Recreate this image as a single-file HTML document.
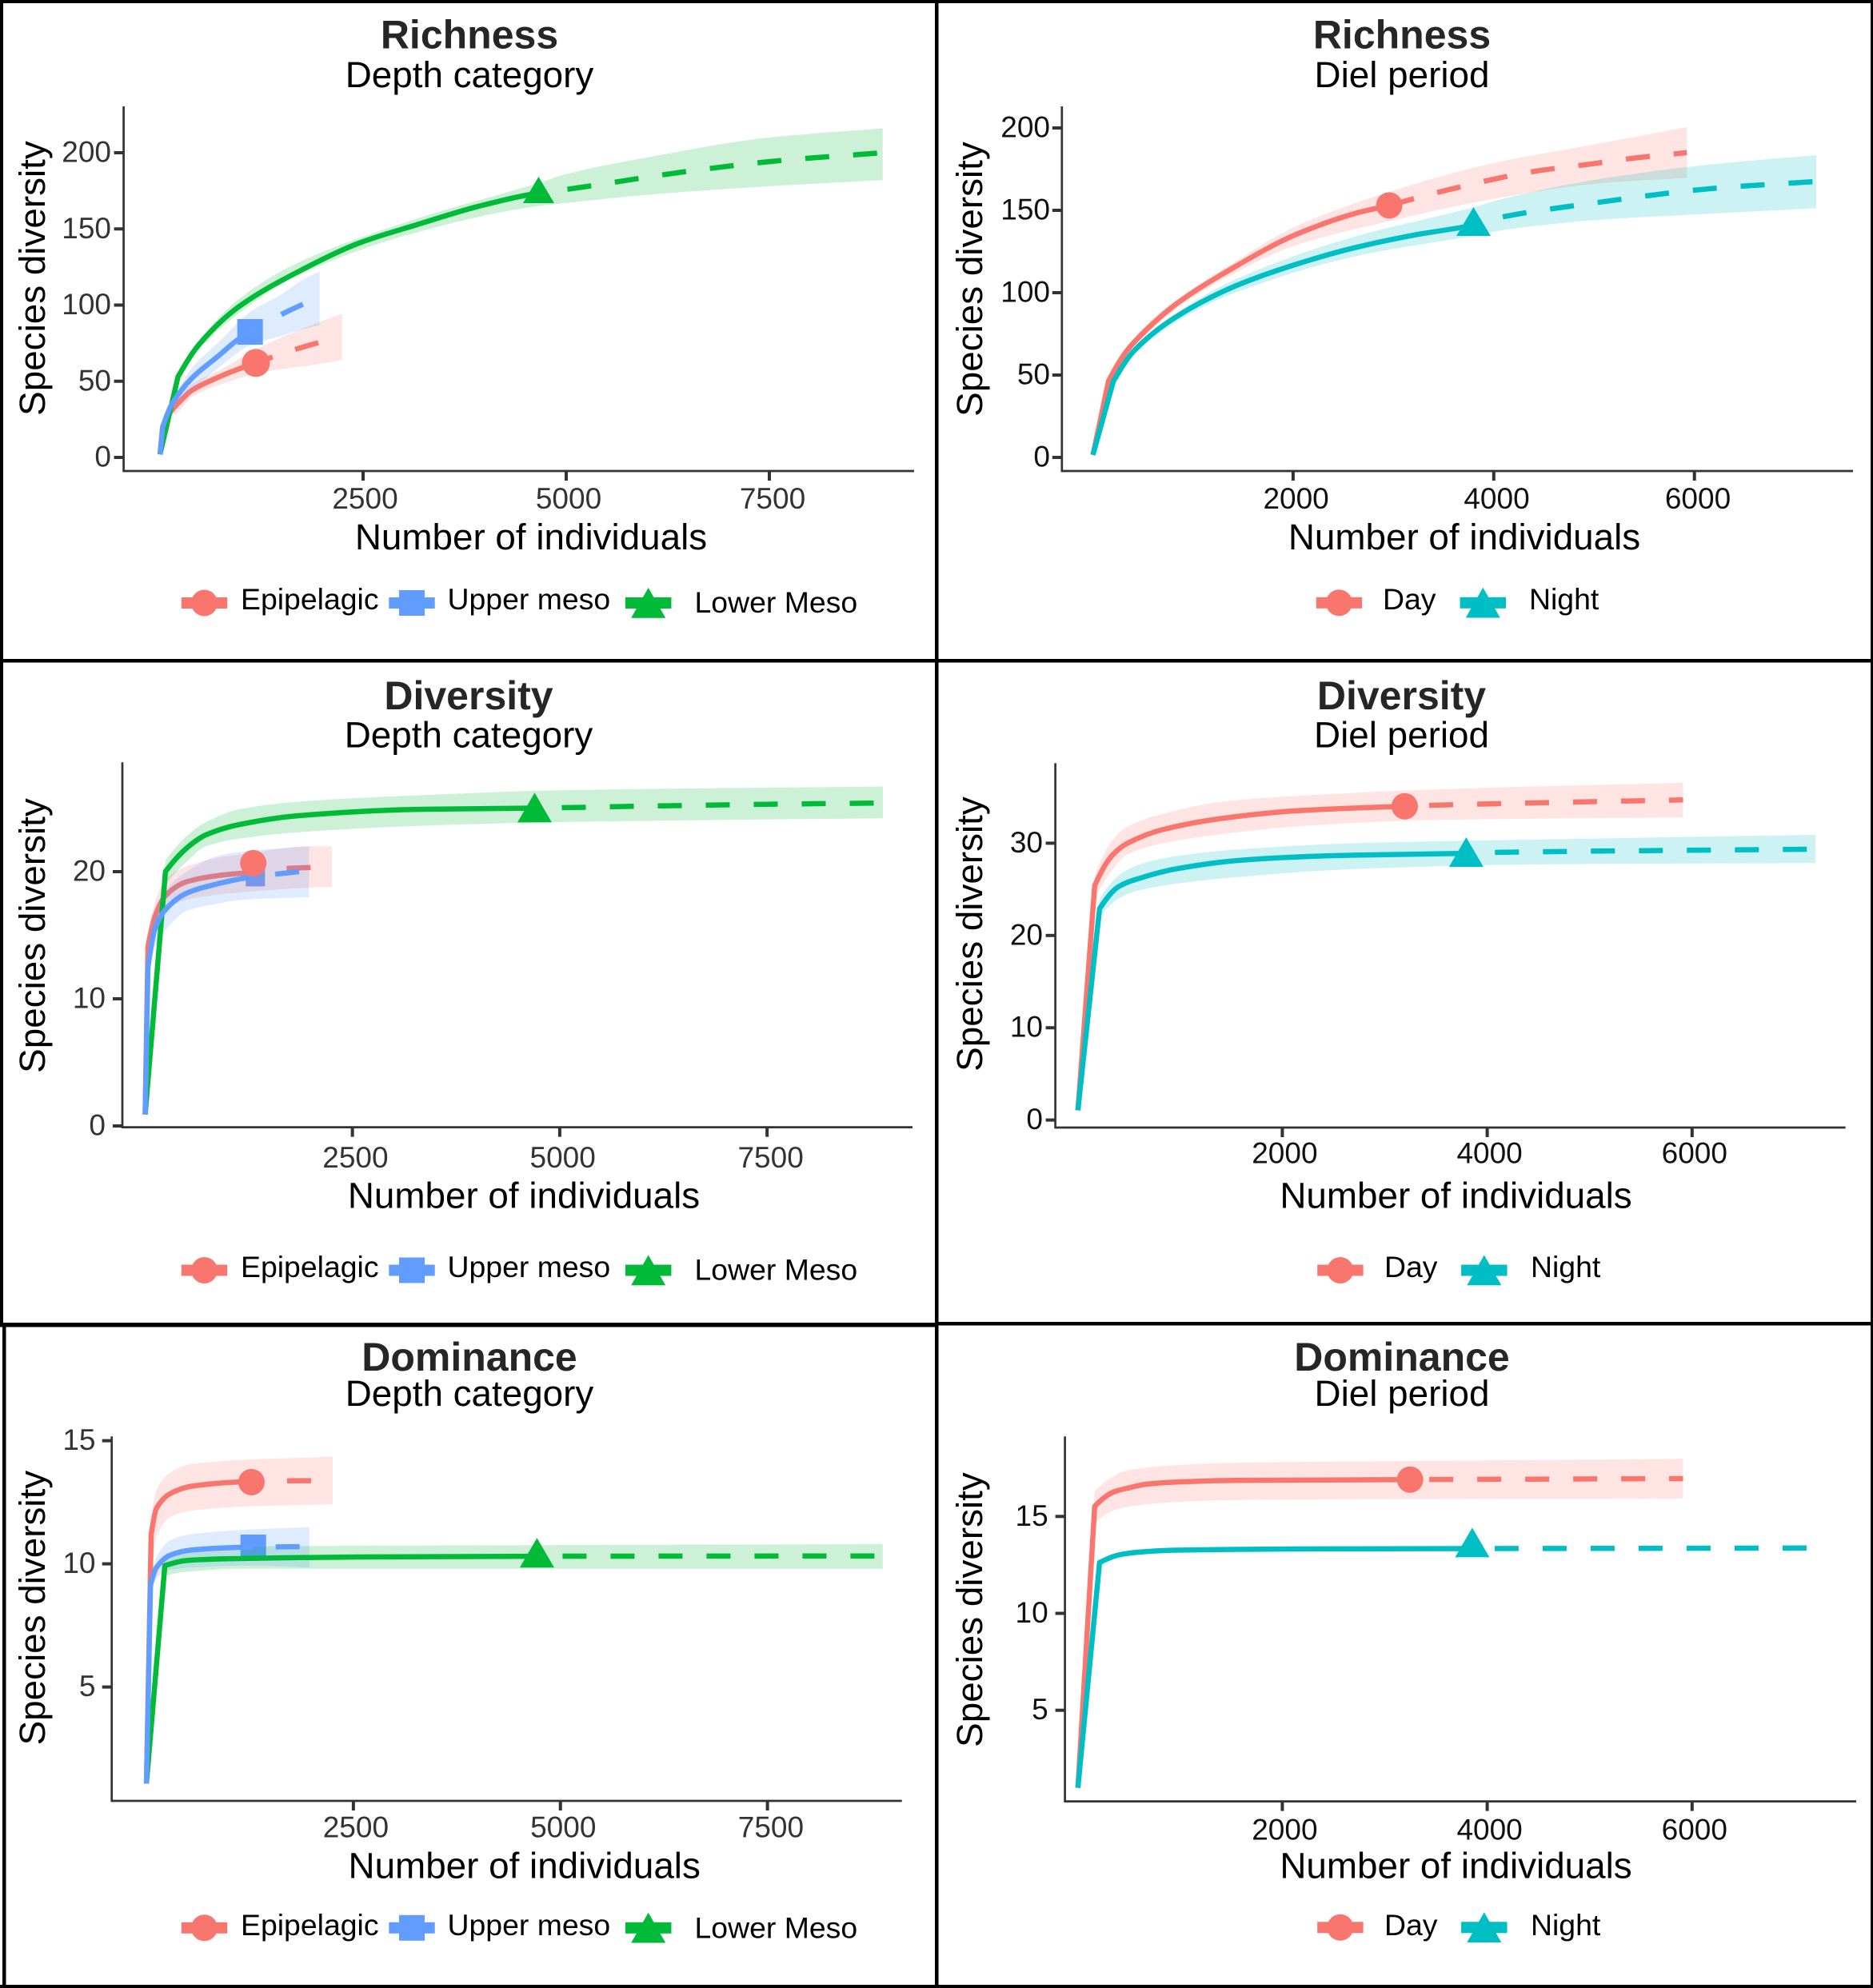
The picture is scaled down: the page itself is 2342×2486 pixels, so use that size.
<!DOCTYPE html>
<html>
<head>
<meta charset="utf-8">
<title>Species diversity rarefaction curves</title>
<style>
html,body{margin:0;padding:0;background:#fff;}
svg{display:block;}
text{font-family:"Liberation Sans",Arial,sans-serif;}
</style>
</head>
<body>
<svg id="figure" xmlns="http://www.w3.org/2000/svg" width="2342" height="2486" viewBox="0 0 2342 2486">
<rect x="0" y="0" width="2342" height="2486" fill="#fff"/>
<g id="plots"></g>
<g fill="#000">
<rect x="0" y="0" width="2342" height="4"/>
<rect x="0" y="0" width="4" height="828"/>
<rect x="0" y="826" width="4" height="832"/>
<rect x="3" y="1654" width="4.5" height="832"/>
<rect x="1169" y="0" width="4.5" height="2486"/>
<rect x="2339" y="0" width="3" height="2486"/>
<rect x="0" y="824" width="2342" height="4.5"/>
<rect x="0" y="1654" width="1171" height="5.5"/>
<rect x="1171" y="1653" width="1171" height="4.5"/>
<rect x="0" y="2482" width="2342" height="4"/>
</g>
</svg>
<script>
// ---------- Richness / Depth ----------
const rdXTicks=[2500,5000,7500];
const rdYTicks=[0,50,100,150,200];
const rdEpiN=[1,33,131,197,394,721,1017,1181,1378,1673,1969];
const rdEpiQ=[2,20,30,34,44,52.7,59,62,65.8,71,75.7];
const rdEpiRibN=[1,33,131,197,394,721,1181,1378,1969,2241];
const rdEpiLo=[2,19,28,29,39.5,47.4,55,57,61.4,64];
const rdEpiHi=[2,21,33,37,48,57,71,76,89,94.3];
const rdUppN=[1,33,148,394,721,952,1109,1493,1755,1965];
const rdUppQ=[2,20,35,52,66.7,77,82.4,93.8,100.4,105];
const rdUppRibN=[1,33,148,394,721,1109,1493,1755,1965];
const rdUppLo=[2,19.5,33,44.8,58.8,73.6,79.8,84,86.8];
const rdUppHi=[2,21,36.5,58.8,75.6,95.5,107,116.5,122];
const rdLowN=[1,222,479,972,1705,2441,3177,3912,4650,5015,6484,7660,8895];
const rdLowQ=[2,53,74,99,122,140.5,153,164.7,173.5,176,187.7,195,200];
const rdLowRibN=[1,222,480,972,1705,3177,4650,5000,6000,7500,8895];
const rdLowLo=[2,52,71,94.6,119.7,148,165,167,172.4,178,182];
const rdLowHi=[2,54,76.5,104,128,157,180,186,197,210,216];
const rdMarkN=[1181,1109,4660];
const rdMarkQ=[62,82.4,172.7];

// ---------- Richness / Diel ----------
const rpXTicks=[2000,4000,6000];
const rpYTicks=[0,50,100,150,200];
const rpDayN=[5,160,339,529,826,1422,2017,2612,2958,3434,4399,4955,5412,5925];
const rpDayQ=[1.5,46.4,64.4,77,92.7,115.8,135,148,153,160.8,173.6,178,181.8,185];
const rpDayRibN=[5,160,339,529,826,1422,2017,3000,4000,5000,5925];
const rpDayLo=[1.5,45,62,74,90,112,128.6,144,157,166,169.8];
const rpDayHi=[1.5,47,66,80,95,119,140,162,178.7,190,200.5];
const rpNigN=[5,207,410,826,1422,2017,2612,3208,3798,4090,4994,6184,7215];
const rpNigQ=[1.5,46,64.4,85,104,117,127.3,135,141,146,154.4,163.3,167.5];
const rpNigRibN=[5,207,410,826,1422,2612,3798,4090,4994,6184,7215];
const rpNigLo=[1.5,45,62,82,100,122,134.6,138,144,148,151.3];
const rpNigHi=[1.5,47,66,87,108,134,151.8,157,168.4,178,183.5];
const rpMarkN=[2958,3798];
const rpMarkQ=[153,140.3];

// ---------- Diversity / Depth ----------
const ddXTicks=[2500,5000,7500];
const ddYTicks=[0,10,20];
const ddEpiN=[1,35,115,244,500,886,1208,1305,1706,1995,2253];
const ddEpiQ=[0.9,14.1,16.4,18.1,19.2,19.7,19.9,19.95,20.25,20.33,20.4];
const ddEpiRibN=[1,35,115,244,500,886,1208,1995,2253];
const ddEpiLo=[0.9,13.4,15.8,17,17.8,18.2,18.4,18.75,18.8];
const ddEpiHi=[0.9,14.6,17.5,19.4,20.4,21.1,21.4,22,22];
const ddUppN=[1,35,115,244,500,886,1208,1330,1570,1852,1977];
const ddUppQ=[0.9,12.5,15.4,17,18.3,19.06,19.5,19.6,19.8,20,20.1];
const ddUppRibN=[1,35,115,244,500,886,1208,1977];
const ddUppLo=[0.9,11,14,15.4,16.9,17.5,17.8,18];
const ddUppHi=[0.9,13.5,16.7,18.5,20,21.25,21.6,22];
const ddLowN=[1,246,519,736,1132,1852,3293,4697,6000,7500,8897];
const ddLowQ=[0.9,20,21.95,22.9,23.7,24.4,24.9,25,25.15,25.3,25.4];
const ddLowRibN=[1,246,519,736,1132,1852,3293,5000,8897];
const ddLowLo=[0.9,19,20.9,22,22.6,23.1,23.6,23.9,24.2];
const ddLowHi=[0.9,20.9,22.9,23.9,24.9,25.5,26,26.4,26.7];
const ddMarkN=[1305,1330,4697];
const ddMarkQ=[20.67,19.6,24.65];

// ---------- Diversity / Diel ----------
const dpXTicks=[2000,4000,6000];
const dpYTicks=[0,10,20,30];
const dpDayN=[5,169,333,490,840,1423,2122,2800,3195,3433,5912];
const dpDayQ=[1.05,25.4,28.6,30,31.5,32.7,33.5,33.85,34,34.1,34.7];
const dpDayRibN=[5,169,333,490,840,1423,2122,3433,5912];
const dpDayLo=[1.05,24,27,28.8,30,31,31.8,32.5,32.8];
const dpDayHi=[1.05,26.5,30.2,31.8,33.2,34.5,35.1,35.8,36.55];
const dpNigN=[5,216,403,607,956,1539,2122,2706,3795,4075,7204];
const dpNigQ=[1.05,22.9,25.3,26.2,27.2,28.1,28.5,28.7,28.9,29,29.35];
const dpNigRibN=[5,216,403,607,956,1539,2706,4500,7204];
const dpNigLo=[1.05,22,24,24.9,25.6,26.3,27.2,27.7,27.85];
const dpNigHi=[1.05,24,26.5,27.7,28.6,29.3,30,30.4,30.9];
const dpMarkN=[3195,3795];
const dpMarkQ=[34,28.5];

// ---------- Dominance / Depth ----------
const odXTicks=[2500,5000,7500];
const odYTicks=[5,10,15];
const odEpiN=[1,58,122,288,541,1117,1269,1700,2250];
const odEpiQ=[1.08,11.2,12.25,12.85,13.15,13.32,13.33,13.37,13.38];
const odEpiRibN=[1,58,122,288,541,1269,2250];
const odEpiLo=[1.08,9.4,11.1,11.9,12.16,12.34,12.42];
const odEpiHi=[1.08,11.9,13,13.7,14.05,14.24,14.34];
const odUppN=[1,50,122,288,541,1117,1291,1969];
const odUppQ=[1.08,9.15,9.85,10.35,10.56,10.67,10.68,10.7];
const odUppRibN=[1,50,122,288,541,1269,1969];
const odUppLo=[1.08,8.7,9.4,9.76,9.85,9.93,9.85];
const odUppHi=[1.08,9.4,10.28,10.96,11.2,11.4,11.48];
const odLowN=[1,223,468,901,2559,4717,8892];
const odLowQ=[1.08,9.93,10.13,10.2,10.28,10.31,10.32];
const odLowRibN=[1,223,468,1117,4717,8892];
const odLowLo=[1.08,9.5,9.67,9.8,9.8,9.8];
const odLowHi=[1.08,10.1,10.45,10.7,10.76,10.8];
const odMarkN=[1269,1291,4717];
const odMarkQ=[13.32,10.67,10.25];

// ---------- Dominance / Diel ----------
const opXTicks=[2000,4000,6000];
const opYTicks=[5,10,15];
const opDayN=[5,169,344,490,665,956,1539,3247,5912];
const opDayQ=[1,15.52,16.24,16.46,16.66,16.77,16.86,16.9,16.95];
const opDayRibN=[5,169,344,490,956,1539,3247,5912];
const opDayLo=[1,14.65,15.3,15.5,15.74,15.85,15.9,15.93];
const opDayHi=[1,16.3,17.05,17.38,17.64,17.77,17.86,17.97];
const opNigN=[5,216,403,607,956,2122,3854,7124];
const opNigQ=[1,12.62,13.01,13.16,13.26,13.32,13.34,13.37];
const opMarkN=[3247,3854];
const opMarkQ=[16.9,13.4];

const RED='#F8766D',BLUE='#619CFF',GREEN='#00BA38',TEAL='#00BFC4';
const NS='http://www.w3.org/2000/svg';

function mk(parent,tag,props){
  const el=document.createElementNS(NS,tag);
  for(const k in props){el.setAttribute(k,props[k]);}
  parent.appendChild(el);
  return el;
}

const depthLegend=(kY,tY,lY)=>[
 {label:'Epipelagic',shape:'circle',color:RED,kx:255.5,ky:kY,tx:301,ty:tY},
 {label:'Upper meso',shape:'square',color:BLUE,kx:515,ky:kY,tx:559.5,ty:tY},
 {label:'Lower Meso',shape:'triangle',color:GREEN,kx:810.7,ky:kY,tx:868.5,ty:lY}
];
const dielLegend=(a,b,c,d,kY,tY)=>[
 {label:'Day',shape:'circle',color:RED,kx:a,ky:kY,tx:b,ty:tY},
 {label:'Night',shape:'triangle',color:TEAL,kx:c,ky:kY,tx:d,ty:tY}
];

const panels=[
{id:'richness-depth',title:'Richness',subtitle:'Depth category',tickColor:'#333',
 titleX:587,titleY:60.5,subY:109,axX:154.6,axTop:133,axBottom:589,axRight:1143,
 x0:200,kx:0.1016,y0:572,ky:1.905,xTicks:rdXTicks,yTicks:rdYTicks,xShift:[2.5,3,4],xLabelY:636,yLabelX:139,
 xTitleX:664,xTitleY:687,yTitleX:56,yTitleY:348,legend:depthLegend(754,762,766),triW:39,triH:33,circleR:17.5,squareS:32,
 series:[
  {name:'epipelagic',color:RED,shape:'circle',n:rdEpiN,q:rdEpiQ,rn:rdEpiRibN,lo:rdEpiLo,hi:rdEpiHi,mi:0,marks:[rdMarkN,rdMarkQ],dash:8},
  {name:'upper-meso',color:BLUE,shape:'square',n:rdUppN,q:rdUppQ,rn:rdUppRibN,lo:rdUppLo,hi:rdUppHi,mi:1,marks:[rdMarkN,rdMarkQ],dash:15.4},
  {name:'lower-meso',color:GREEN,shape:'triangle',n:rdLowN,q:rdLowQ,rn:rdLowRibN,lo:rdLowLo,hi:rdLowHi,mi:2,marks:[rdMarkN,rdMarkQ],dash:23.7}
 ]},
{id:'richness-diel',title:'Richness',subtitle:'Diel period',tickColor:'#111',
 titleX:1753,titleY:60.5,subY:109,axX:1327.8,axTop:133,axBottom:589,axRight:2317,
 x0:1366,kx:0.12545,y0:572,ky:2.06,xTicks:rpXTicks,yTicks:rpYTicks,xShift:[3.7,3.7,4.3],xLabelY:636,yLabelX:1313,
 xTitleX:1831,xTitleY:687,yTitleX:1228,yTitleY:349,legend:dielLegend(1674.4,1729,1854.3,1912,753.8,762),triW:43,triH:36,circleR:16.5,squareS:32,
 series:[
  {name:'day',color:RED,shape:'circle',n:rpDayN,q:rpDayQ,rn:rpDayRibN,lo:rpDayLo,hi:rpDayHi,mi:0,marks:[rpMarkN,rpMarkQ],dash:58},
  {name:'night',color:TEAL,shape:'triangle',n:rpNigN,q:rpNigQ,rn:rpNigRibN,lo:rpNigLo,hi:rpNigHi,mi:1,marks:[rpMarkN,rpMarkQ],dash:22}
 ]},
{id:'diversity-depth',title:'Diversity',subtitle:'Depth category',tickColor:'#333',
 titleX:586,titleY:887,subY:934.5,axX:153,axTop:953.3,axBottom:1409.6,axRight:1141,
 x0:181.4,kx:0.1037,y0:1408,ky:15.9,xTicks:ddXTicks,yTicks:ddYTicks,xShift:[3.8,3.8,4.5],xLabelY:1460,yLabelX:132,
 xTitleX:655,xTitleY:1510.5,yTitleX:56,yTitleY:1170,legend:depthLegend(1588.5,1597,1600.7),triW:43,triH:37,circleR:16.5,squareS:24,
 series:[
  {name:'epipelagic',color:RED,shape:'circle',n:ddEpiN,q:ddEpiQ,rn:ddEpiRibN,lo:ddEpiLo,hi:ddEpiHi,mi:0,marks:[ddMarkN,ddMarkQ],dash:18},
  {name:'upper-meso',color:BLUE,shape:'square',n:ddUppN,q:ddUppQ,rn:ddUppRibN,lo:ddUppLo,hi:ddUppHi,mi:1,marks:[ddMarkN,ddMarkQ],dash:35},
  {name:'lower-meso',color:GREEN,shape:'triangle',n:ddLowN,q:ddLowQ,rn:ddLowRibN,lo:ddLowLo,hi:ddLowHi,mi:2,marks:[ddMarkN,ddMarkQ],dash:26}
 ]},
{id:'diversity-diel',title:'Diversity',subtitle:'Diel period',tickColor:'#111',
 titleX:1752.5,titleY:887,subY:934.5,axX:1319.6,axTop:954.4,axBottom:1410,axRight:2307.6,
 x0:1347.2,kx:0.1281,y0:1400.6,ky:11.54,xTicks:dpXTicks,yTicks:dpYTicks,xShift:[3,3,3],xLabelY:1454.5,yLabelX:1304,
 xTitleX:1820.5,xTitleY:1510.5,yTitleX:1228,yTitleY:1168,legend:dielLegend(1675.9,1731,1855.8,1914,1588.5,1597),triW:43,triH:37,circleR:16.5,squareS:32,
 series:[
  {name:'day',color:RED,shape:'circle',n:dpDayN,q:dpDayQ,rn:dpDayRibN,lo:dpDayLo,hi:dpDayHi,mi:0,marks:[dpMarkN,dpMarkQ],dash:29.5},
  {name:'night',color:TEAL,shape:'triangle',n:dpNigN,q:dpNigQ,rn:dpNigRibN,lo:dpNigLo,hi:dpNigHi,mi:1,marks:[dpMarkN,dpMarkQ],dash:24}
 ]},
{id:'dominance-depth',title:'Dominance',subtitle:'Depth category',tickColor:'#333',
 titleX:587,titleY:1714,subY:1758,axX:139.7,axTop:1796.3,axBottom:2252,axRight:1127.7,
 x0:183,kx:0.10355,y0:2263.6,ky:30.8,xTicks:odXTicks,yTicks:odYTicks,xShift:[3,3.5,4.3],xLabelY:2297.5,yLabelX:119.5,
 xTitleX:655.7,xTitleY:2348.3,yTitleX:56,yTitleY:2010.6,legend:depthLegend(2410.8,2420,2423.6),triW:43,triH:37,circleR:16.5,squareS:32,
 series:[
  {name:'epipelagic',color:RED,shape:'circle',n:odEpiN,q:odEpiQ,rn:odEpiRibN,lo:odEpiLo,hi:odEpiHi,mi:0,marks:[odMarkN,odMarkQ],dash:15.4},
  {name:'upper-meso',color:BLUE,shape:'square',n:odUppN,q:odUppQ,rn:odUppRibN,lo:odUppLo,hi:odUppHi,mi:1,marks:[odMarkN,odMarkQ],dash:32},
  {name:'lower-meso',color:GREEN,shape:'triangle',n:odLowN,q:odLowQ,rn:odLowRibN,lo:odLowLo,hi:odLowHi,mi:2,marks:[odMarkN,odMarkQ],dash:28}
 ]},
{id:'dominance-diel',title:'Dominance',subtitle:'Diel period',tickColor:'#111',
 titleX:1753,titleY:1714,subY:1758,axX:1331.6,axTop:1796.3,axBottom:2252.6,axRight:2321,
 x0:1347.2,kx:0.1281,y0:2259.9,ky:24.24,xTicks:opXTicks,yTicks:opYTicks,xShift:[3,3,3],xLabelY:2300.5,yLabelX:1310.7,
 xTitleX:1820.5,xTitleY:2348.3,yTitleX:1228,yTitleY:2013,legend:dielLegend(1675.9,1731,1855.8,1914,2410.3,2420),triW:43,triH:37,circleR:16.5,squareS:32,
 series:[
  {name:'day',color:RED,shape:'circle',n:opDayN,q:opDayQ,rn:opDayRibN,lo:opDayLo,hi:opDayHi,mi:0,marks:[opMarkN,opMarkQ],dash:36},
  {name:'night',color:TEAL,shape:'triangle',n:opNigN,q:opNigQ,rn:null,lo:null,hi:null,mi:1,marks:[opMarkN,opMarkQ],dash:32}
 ]}
];

function lerpAt(ns,qs,n){
  for(let i=1;i<ns.length;i++){
    if(n<=ns[i]){
      const t=(n-ns[i-1])/(ns[i]-ns[i-1]);
      return qs[i-1]+t*(qs[i]-qs[i-1]);
    }
  }
  return qs[qs.length-1];
}

// Pixel points -> list of path segments. The first segment stays straight (the
// reference has a hard corner there); the rest use a monotone cubic through the knots.
function curveSegments(pts){
  const N=pts.length,segs=[];
  if(N<3){
    for(let i=1;i<N;i++){segs.push({a:pts[i-1],b:pts[i],c1:pts[i-1],c2:pts[i]});}
    return segs;
  }
  const h=[],s=[];
  for(let i=0;i<N-1;i++){
    h[i]=Math.max(pts[i+1][0]-pts[i][0],0.001);
    s[i]=(pts[i+1][1]-pts[i][1])/h[i];
  }
  const m=[];
  m[N-1]=s[N-2];
  for(let i=2;i<N-1;i++){
    m[i]=(s[i-1]*s[i]<=0)?0:(h[i-1]+h[i])*2*s[i-1]*s[i]/((h[i-1]+h[i])*(s[i-1]+s[i])+0.0001);
  }
  if(N>3){
    let e=((2*h[1]+h[2])*s[1]-h[1]*s[2])/(h[1]+h[2]);
    if(e*s[1]<=0){e=s[1];}
    if(Math.abs(e)>3*Math.abs(s[1])){e=3*s[1];}
    m[1]=e;
  }else{
    m[1]=s[1];
  }
  segs.push({a:pts[0],b:pts[1],c1:pts[0],c2:pts[1]});
  for(let i=1;i<N-1;i++){
    const d=h[i]/3;
    segs.push({a:pts[i],b:pts[i+1],
      c1:[pts[i][0]+d,pts[i][1]+m[i]*d],
      c2:[pts[i+1][0]-d,pts[i+1][1]-m[i+1]*d]});
  }
  return segs;
}
const fmt=p=>p[0].toFixed(1)+' '+p[1].toFixed(1);
function segPath(segs){
  return segs.map(g=>'C'+fmt(g.c1)+' '+fmt(g.c2)+' '+fmt(g.b)).join('');
}
function segPathReverse(segs){
  let d='';
  for(let i=segs.length-1;i>=0;i--){
    d+='C'+fmt(segs[i].c2)+' '+fmt(segs[i].c1)+' '+fmt(segs[i].a);
  }
  return d;
}

function drawRibbon(g,p,s,X,Y){
  if(!s.rn){return;}
  const up=curveSegments(s.rn.map((n,i)=>[X(n),Y(s.hi[i])]));
  const dn=curveSegments(s.rn.map((n,i)=>[X(n),Y(s.lo[i])]));
  const d='M'+fmt(up[0].a)+segPath(up)+'L'+fmt(dn[dn.length-1].b)+segPathReverse(dn)+'Z';
  const el=mk(g,'path',{d:d,fill:s.color,'fill-opacity':0.2,stroke:'none'});
  
  
}

function drawLine(g,p,s,X,Y){
  const split=s.marks[0][s.mi];
  const splitQ=lerpAt(s.n,s.q,split);
  const pts=[];
  let placed=false;
  s.n.forEach((n,i)=>{
    if(!placed&&n>=split){
      if(n>split){pts.push([X(split),Y(splitQ),1]);}
      placed=true;
      if(n===split){pts.push([X(n),Y(s.q[i]),1]);return;}
    }
    pts.push([X(n),Y(s.q[i]),0]);
  });
  const segs=curveSegments(pts);
  const k=pts.findIndex(q=>q[2]===1);
  const solid='M'+fmt(pts[0])+segPath(segs.slice(0,k));
  const dashed='M'+fmt(pts[k])+segPath(segs.slice(k));
  const a=mk(g,'path',{d:solid,fill:'none',stroke:s.color,'stroke-width':6.5,'stroke-linejoin':'round'});
  
  
  const b=mk(g,'path',{d:dashed,fill:'none',stroke:s.color,'stroke-width':6.5,'stroke-dasharray':'30 30','stroke-dashoffset':s.dash,'stroke-linejoin':'round'});
  
  
}

function drawMarker(g,p,s,X,Y){
  const cx=X(s.marks[0][s.mi]),cy=Y(s.marks[1][s.mi]);
  let el;
  if(s.shape==='circle'){
    el=mk(g,'circle',{cx:cx,cy:cy,r:p.circleR,fill:s.color});
  }else if(s.shape==='square'){
    el=mk(g,'rect',{x:cx-p.squareS/2,y:cy-p.squareS/2,width:p.squareS,height:p.squareS,fill:s.color});
  }else{
    const w=p.triW/2,h=p.triH;
    el=mk(g,'polygon',{points:(cx-w)+','+(cy+h/3)+' '+(cx+w)+','+(cy+h/3)+' '+cx+','+(cy-2*h/3),fill:s.color});
  }
  
  
}

const root=document.getElementById('plots');
panels.forEach(p=>{
  const X=n=>p.x0+p.kx*n;
  const Y=q=>p.y0-p.ky*q;
  const g=mk(root,'g',{});
  
  

  const title=mk(g,'text',{x:p.titleX,y:p.titleY,'text-anchor':'middle','font-size':50,'font-weight':'bold',fill:'#262626'});
  title.textContent=p.title;
  
  
  const sub=mk(g,'text',{x:p.titleX,y:p.subY,'text-anchor':'middle','font-size':45.8,fill:'#000'});
  sub.textContent=p.subtitle;
  
  

  // marks, layered like the source figure
  const S=p.series;
  if(S.length===3){
    drawMarker(g,p,S[1],X,Y);
    drawRibbon(g,p,S[0],X,Y);
    drawRibbon(g,p,S[2],X,Y);
    drawLine(g,p,S[0],X,Y);
    drawRibbon(g,p,S[1],X,Y);
    drawLine(g,p,S[2],X,Y);
    drawLine(g,p,S[1],X,Y);
    drawMarker(g,p,S[0],X,Y);
    drawMarker(g,p,S[2],X,Y);
  }else{
    drawRibbon(g,p,S[0],X,Y);
    drawRibbon(g,p,S[1],X,Y);
    drawLine(g,p,S[0],X,Y);
    drawLine(g,p,S[1],X,Y);
    drawMarker(g,p,S[0],X,Y);
    drawMarker(g,p,S[1],X,Y);
  }

  // axes
  const yAxis=mk(g,'line',{x1:p.axX,x2:p.axX,y1:p.axTop,y2:p.axBottom+1.3,stroke:'#333',
    'stroke-width':2.7});
  
  
  const xAxis=mk(g,'line',{x1:p.axX,x2:p.axRight,y1:p.axBottom,y2:p.axBottom,stroke:'#333','stroke-width':2.7});
  
  

  p.xTicks.forEach((v,i)=>{
    const t=mk(g,'line',{x1:X(v),x2:X(v),y1:p.axBottom,y2:p.axBottom+12,stroke:'#333','stroke-width':4});
    
    
    const l=mk(g,'text',{x:X(v)+p.xShift[i],y:p.xLabelY,'text-anchor':'middle','font-size':37,fill:p.tickColor});
    l.textContent=v;
    
    
  });
  p.yTicks.forEach(v=>{
    const t=mk(g,'line',{x1:p.axX-12,x2:p.axX,y1:Y(v),y2:Y(v),stroke:'#333','stroke-width':4});
    
    
    const l=mk(g,'text',{x:p.yLabelX,y:Y(v)+11.5,'text-anchor':'end','font-size':37,fill:p.tickColor});
    l.textContent=v;
    
    
  });

  const xt=mk(g,'text',{x:p.xTitleX,y:p.xTitleY,'text-anchor':'middle','font-size':45.8,fill:'#000'});
  xt.textContent='Number of individuals';
  
  
  const yt=mk(g,'text',{x:0,y:0,transform:'translate('+p.yTitleX+' '+p.yTitleY+') rotate(-90)','text-anchor':'middle','font-size':45.8,fill:'#000'});
  yt.textContent='Species diversity';
  
  

  // legend
  p.legend.forEach(e=>{
    const lg=mk(g,'g',{});
    
    
    const bar=mk(lg,'rect',{x:e.kx-28.7,y:e.ky-7,width:57.4,height:14,fill:e.color});
    
    
    let m;
    if(e.shape==='circle'){
      m=mk(lg,'circle',{cx:e.kx,cy:e.ky,r:16.5,fill:e.color});
    }else if(e.shape==='square'){
      m=mk(lg,'rect',{x:e.kx-16,y:e.ky-16,width:32,height:32,fill:e.color});
    }else{
      m=mk(lg,'polygon',{points:(e.kx-21.5)+','+(e.ky+18.7)+' '+(e.kx+21.5)+','+(e.ky+18.7)+' '+e.kx+','+(e.ky-19),fill:e.color});
    }
    
    
    const lt=mk(lg,'text',{x:e.tx,y:e.ty,'font-size':37.4,fill:'#000'});
    lt.textContent=e.label;
    
    
  });
});
</script>
</body>
</html>
